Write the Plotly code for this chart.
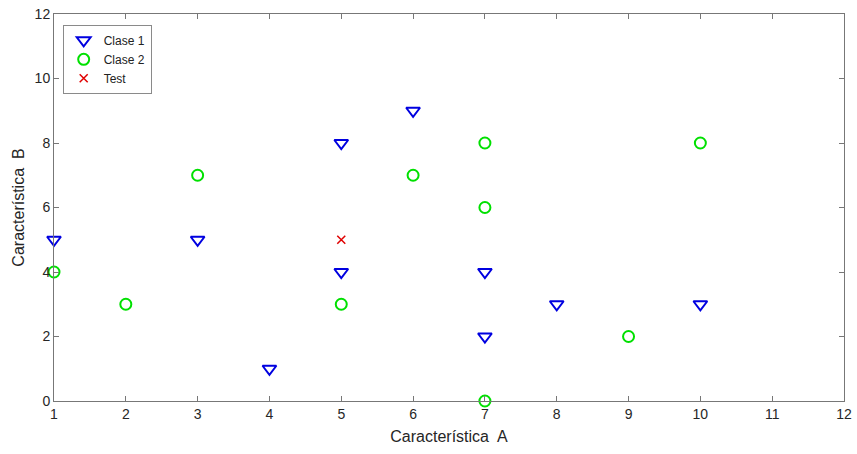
import plotly.graph_objects as go

c1_x = [1, 3, 4, 5, 5, 6, 7, 7, 8, 10]
c1_y = [5, 5, 1, 8, 4, 9, 4, 2, 3, 3]
c2_x = [1, 2, 3, 5, 6, 7, 7, 7, 9, 10]
c2_y = [4, 3, 7, 3, 7, 8, 6, 0, 2, 8]
test_x = [5]
test_y = [5]
ticks_x = list(range(1, 13))
ticks_y = list(range(0, 13, 2))

fig = go.Figure()
fig.add_trace(go.Scatter(x=c1_x, y=c1_y, mode="markers", name="Clase 1",
                         marker=dict(symbol="triangle-down-open", size=12, color="#0000E0",
                                     line=dict(width=2, color="#0000E0")), cliponaxis=False))
fig.add_trace(go.Scatter(x=c2_x, y=c2_y, mode="markers", name="Clase 2",
                         marker=dict(symbol="circle-open", size=11, color="#00E000",
                                     line=dict(width=2, color="#00E000")), cliponaxis=False))
fig.add_trace(go.Scatter(x=test_x, y=test_y, mode="markers", name="Test",
                         marker=dict(symbol="x-thin-open", size=8, color="#E00000",
                                     line=dict(width=1.5, color="#E00000")), cliponaxis=False))

axis_common = dict(showgrid=False, zeroline=False, showline=True, linecolor="#777777",
                   linewidth=1, mirror="ticks", ticks="inside", ticklen=5, tickcolor="#777777",
                   automargin=False,
                   tickfont=dict(family="Arial", size=14, color="#262626"))
fig.update_xaxes(range=[1, 12], tickvals=ticks_x,
                 title=dict(text="Característica\u00a0 A", font=dict(family="Arial", size=16, color="#262626"), standoff=10),
                 **axis_common)
fig.update_yaxes(range=[0, 12], tickvals=ticks_y,
                 title=dict(text="Característica\u00a0 B", font=dict(family="Arial", size=16, color="#262626"), standoff=6),
                 **axis_common)
fig.update_layout(width=857, height=454, margin=dict(l=54, r=13, t=14, b=53, autoexpand=False),
                  plot_bgcolor="white", paper_bgcolor="white",
                  font=dict(family="Arial", size=12, color="#222222"),
                  legend=dict(x=0.011, y=0.972, xanchor="left", yanchor="top",
                              bgcolor="white", bordercolor="#8a8a8a", borderwidth=1,
                              font=dict(family="Arial", size=12, color="#222222"),
                              itemwidth=30, tracegroupgap=0))
fig.write_html("out.html", config={"displayModeBar": False},
               post_script="document.body.style.margin='0';document.body.style.overflow='hidden';")
